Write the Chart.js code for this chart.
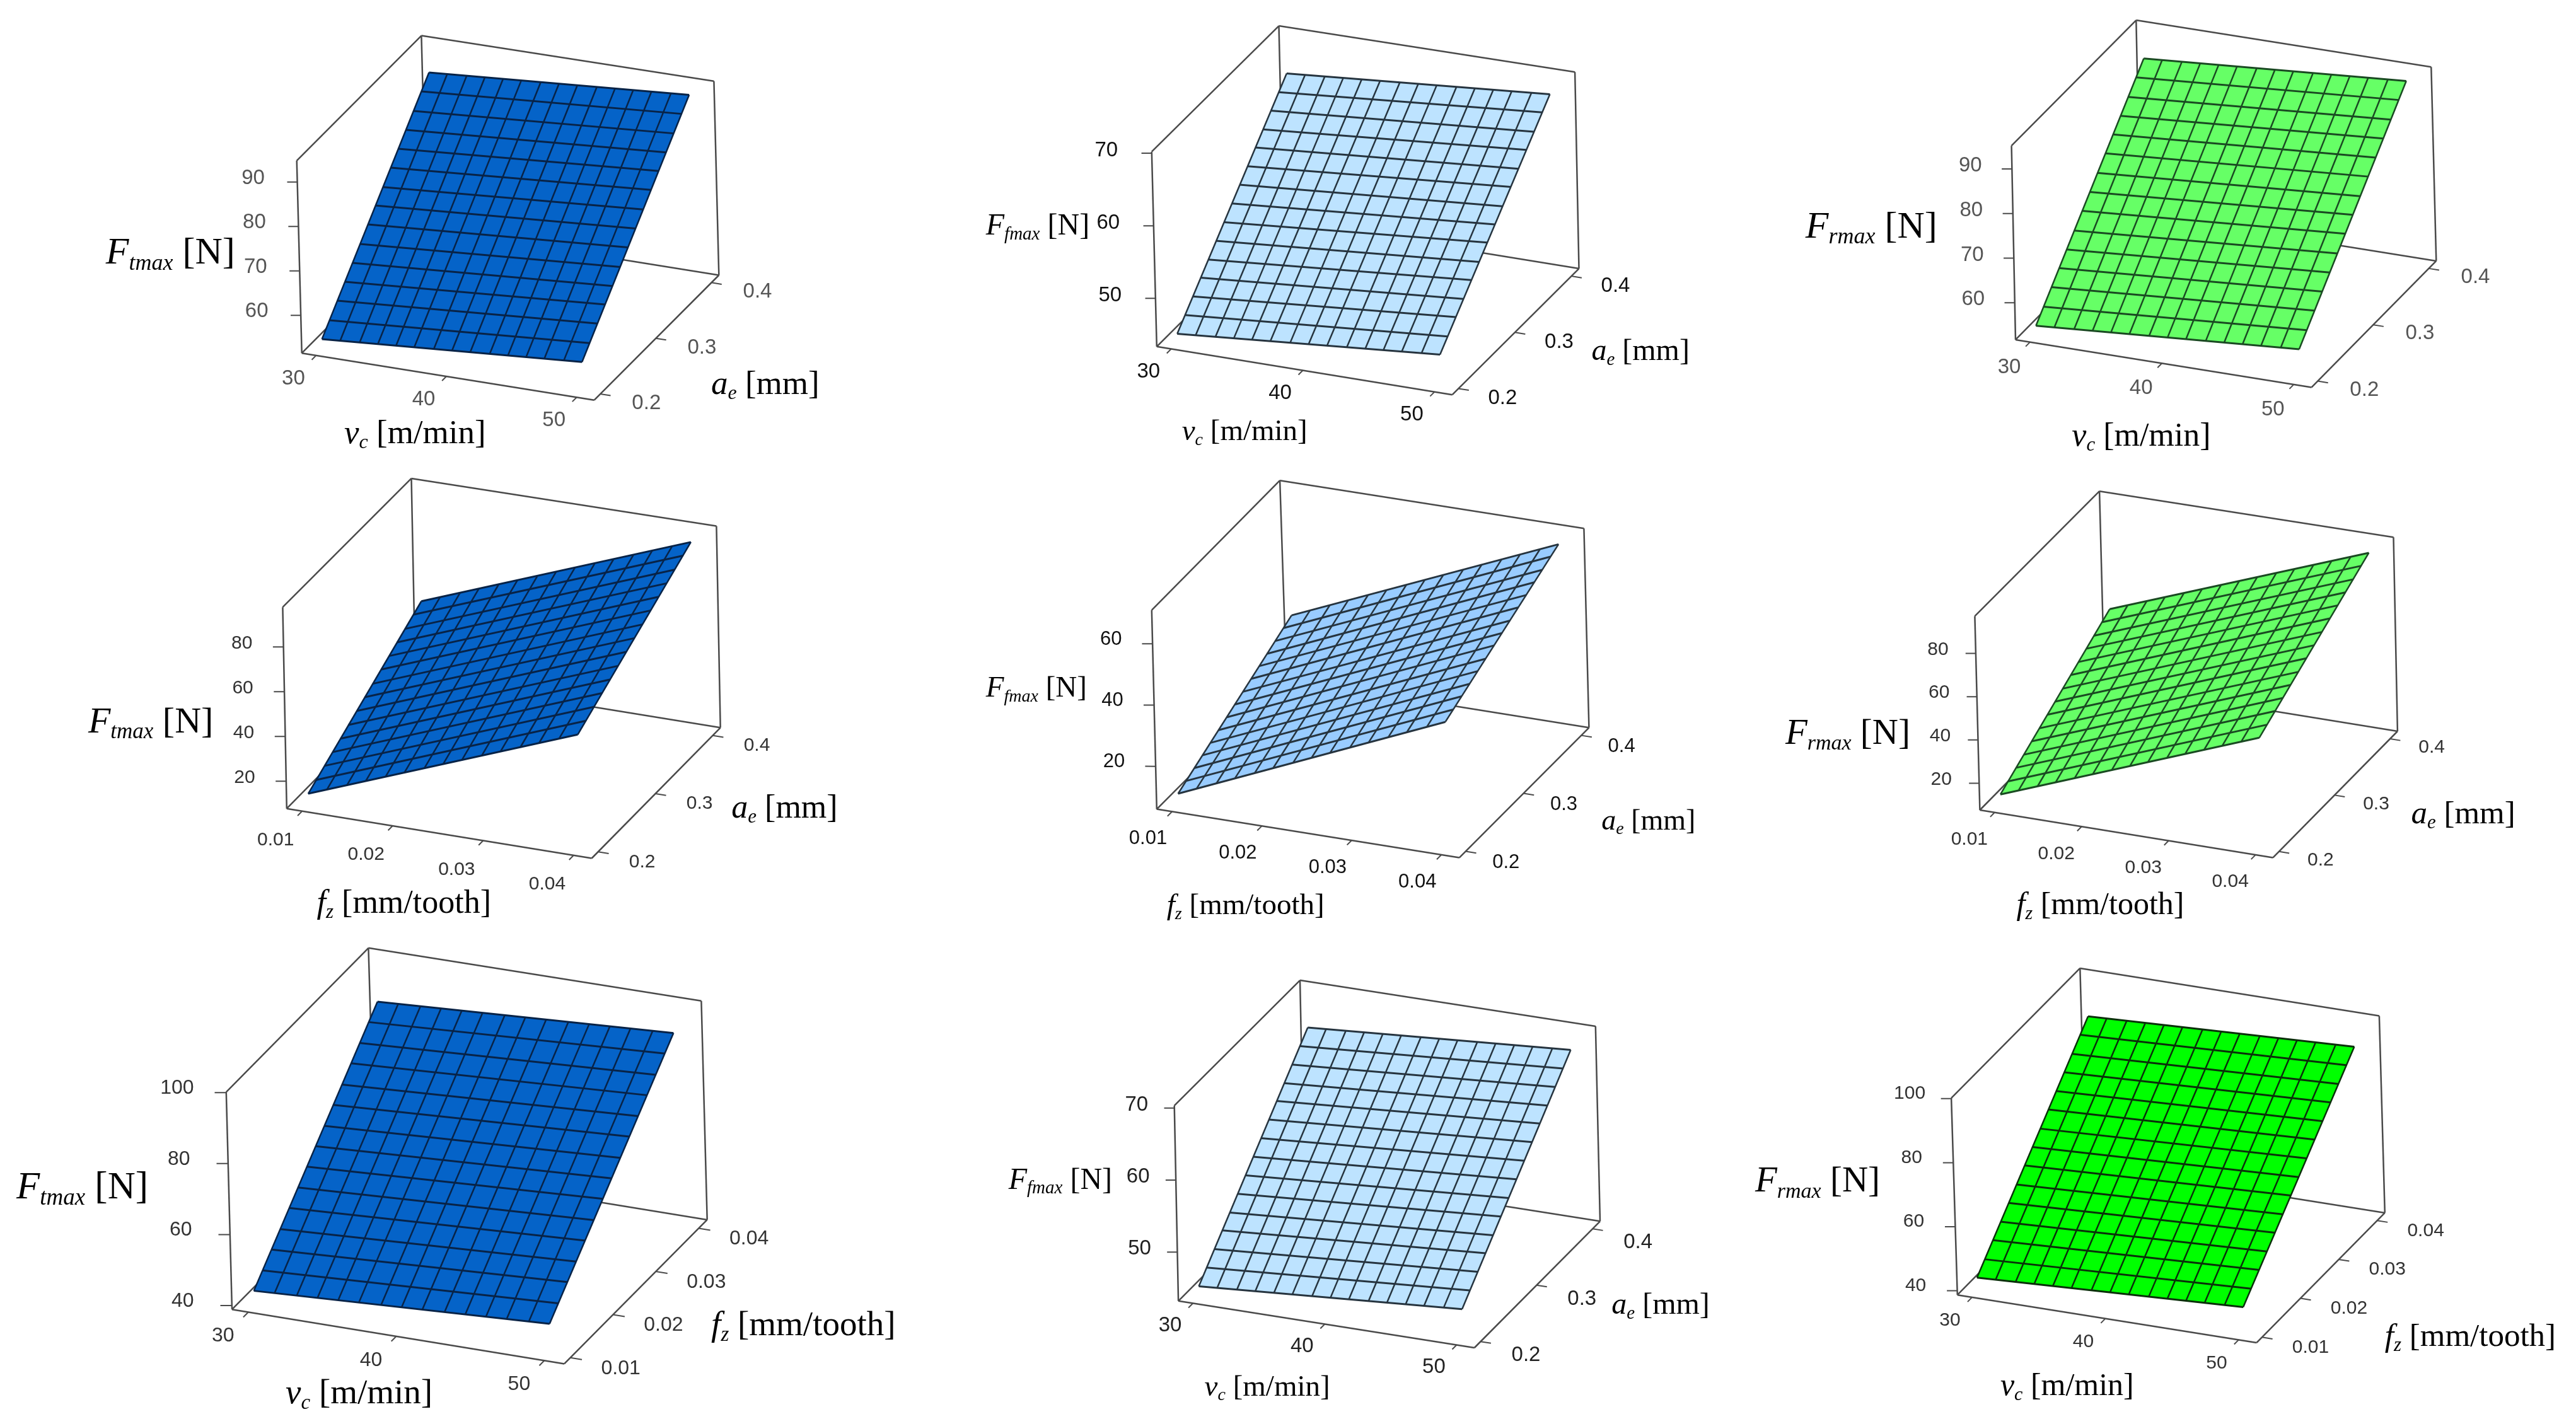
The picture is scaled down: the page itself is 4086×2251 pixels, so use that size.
<!DOCTYPE html>
<html lang="en">
<head>
<meta charset="UTF-8">
<title>Maximum cutting force response surfaces</title>
<script src="https://cdn.jsdelivr.net/npm/chart.js"></script>
<style>
    html, body { margin: 0; background: #fff; }
    canvas { display: block; }
</style>
</head>
<body>
<canvas id="surfaces" width="4086" height="2251"></canvas>
<script>
// tick labels
const vcTicks = [30, 40, 50];
const aeTicks = [0.2, 0.3, 0.4];
const fzTicks = [0.01, 0.02, 0.03, 0.04];
const ticksF60to90 = [60, 70, 80, 90];
const ticksF50to70 = [50, 60, 70];
const ticksF20to80 = [20, 40, 60, 80];
const ticksF20to60 = [20, 40, 60];
const ticksF40to100 = [40, 60, 80, 100];

// mesh positions of the surface along each factor
const vcMesh = [30, 31.4, 32.9, 34.3, 35.7, 37.1, 38.6, 40, 41.4, 42.9, 44.3, 45.7, 47.1, 48.6, 50];
const aeMesh = [0.2, 0.214, 0.229, 0.243, 0.257, 0.271, 0.286, 0.3, 0.314, 0.329, 0.343, 0.357, 0.371, 0.386, 0.4];
const fzMesh = [0.01, 0.0121, 0.0143, 0.0164, 0.0186, 0.0207, 0.0229, 0.025, 0.0271, 0.0293, 0.0314, 0.0336, 0.0357, 0.0379, 0.04];

// force along the four edges of each surface
const ftVcAeFront = [53.8, 54.1, 54.4, 54.7, 55.0, 55.3, 55.6, 55.9, 56.2, 56.5, 56.8, 57.1, 57.4, 57.7, 58.0];
const ftVcAeBack = [88.7, 89.0, 89.3, 89.6, 89.9, 90.2, 90.5, 90.8, 91.0, 91.3, 91.6, 91.9, 92.2, 92.5, 92.8];
const ftVcAeLeft = [53.8, 56.3, 58.8, 61.3, 63.8, 66.3, 68.8, 71.3, 73.7, 76.2, 78.7, 81.2, 83.7, 86.2, 88.7];
const ftVcAeRight = [58.0, 60.5, 63.0, 65.5, 67.9, 70.4, 72.9, 75.4, 77.9, 80.4, 82.9, 85.3, 87.8, 90.3, 92.8];

const ffVcAeFront = [44.6, 44.8, 45.0, 45.2, 45.5, 45.7, 45.9, 46.1, 46.3, 46.5, 46.7, 47.0, 47.2, 47.4, 47.6];
const ffVcAeBack = [65.0, 65.2, 65.4, 65.6, 65.8, 66.0, 66.2, 66.4, 66.6, 66.8, 67.0, 67.2, 67.4, 67.6, 67.8];
const ffVcAeLeft = [44.6, 46.1, 47.5, 49.0, 50.4, 51.9, 53.3, 54.8, 56.3, 57.7, 59.2, 60.6, 62.1, 63.5, 65.0];
const ffVcAeRight = [47.6, 49.0, 50.5, 51.9, 53.4, 54.8, 56.3, 57.7, 59.1, 60.6, 62.0, 63.5, 64.9, 66.4, 67.8];

const frVcAeFront = [54.0, 54.3, 54.6, 54.9, 55.2, 55.5, 55.8, 56.1, 56.4, 56.7, 57.0, 57.3, 57.6, 57.9, 58.2];
const frVcAeBack = [88.8, 89.1, 89.4, 89.7, 90.0, 90.3, 90.6, 91.0, 91.3, 91.6, 91.9, 92.2, 92.5, 92.8, 93.1];
const frVcAeLeft = [54.0, 56.5, 59.0, 61.5, 63.9, 66.4, 68.9, 71.4, 73.9, 76.4, 78.9, 81.3, 83.8, 86.3, 88.8];
const frVcAeRight = [58.2, 60.7, 63.2, 65.7, 68.2, 70.7, 73.2, 75.7, 78.1, 80.6, 83.1, 85.6, 88.1, 90.6, 93.1];

const ftFzAeFront = [12.7, 16.0, 19.2, 22.5, 25.8, 29.0, 32.3, 35.5, 38.8, 42.1, 45.3, 48.6, 51.9, 55.1, 58.4];
const ftFzAeBack = [47.0, 50.3, 53.5, 56.8, 60.1, 63.4, 66.6, 69.9, 73.2, 76.4, 79.7, 83.0, 86.3, 89.5, 92.8];
const ftFzAeLeft = [12.7, 15.2, 17.6, 20.1, 22.5, 25.0, 27.4, 29.9, 32.3, 34.8, 37.2, 39.7, 42.1, 44.6, 47.0];
const ftFzAeRight = [58.4, 60.9, 63.3, 65.8, 68.2, 70.7, 73.1, 75.6, 78.1, 80.5, 83.0, 85.4, 87.9, 90.3, 92.8];

const ffFzAeFront = [9.8, 12.5, 15.1, 17.8, 20.5, 23.2, 25.8, 28.5, 31.2, 33.8, 36.5, 39.2, 41.9, 44.5, 47.2];
const ffFzAeBack = [30.2, 32.9, 35.5, 38.2, 40.8, 43.5, 46.1, 48.8, 51.5, 54.1, 56.8, 59.4, 62.1, 64.7, 67.4];
const ffFzAeLeft = [9.8, 11.3, 12.7, 14.2, 15.6, 17.1, 18.5, 20.0, 21.5, 22.9, 24.4, 25.8, 27.3, 28.7, 30.2];
const ffFzAeRight = [47.2, 48.6, 50.1, 51.5, 53.0, 54.4, 55.9, 57.3, 58.7, 60.2, 61.6, 63.1, 64.5, 66.0, 67.4];

const frFzAeFront = [13.1, 16.3, 19.6, 22.8, 26.1, 29.3, 32.6, 35.8, 39.0, 42.3, 45.5, 48.8, 52.0, 55.3, 58.5];
const frFzAeBack = [46.9, 50.1, 53.4, 56.6, 59.8, 63.1, 66.3, 69.5, 72.8, 76.0, 79.3, 82.5, 85.7, 89.0, 92.2];
const frFzAeLeft = [13.1, 15.5, 17.9, 20.3, 22.8, 25.2, 27.6, 30.0, 32.4, 34.8, 37.2, 39.7, 42.1, 44.5, 46.9];
const frFzAeRight = [58.5, 60.9, 63.3, 65.7, 68.1, 70.5, 72.9, 75.3, 77.8, 80.2, 82.6, 85.0, 87.4, 89.8, 92.2];

const ftVcFzFront = [43.2, 43.5, 43.8, 44.1, 44.4, 44.7, 45.0, 45.4, 45.7, 46.0, 46.3, 46.6, 46.9, 47.2, 47.5];
const ftVcFzBack = [88.2, 88.5, 88.8, 89.2, 89.5, 89.8, 90.1, 90.5, 90.8, 91.1, 91.4, 91.7, 92.1, 92.4, 92.7];
const ftVcFzLeft = [43.2, 46.4, 49.6, 52.8, 56.1, 59.3, 62.5, 65.7, 68.9, 72.1, 75.3, 78.6, 81.8, 85.0, 88.2];
const ftVcFzRight = [47.5, 50.7, 54.0, 57.2, 60.4, 63.6, 66.9, 70.1, 73.3, 76.6, 79.8, 83.0, 86.2, 89.5, 92.7];

const ffVcAe2Front = [44.7, 44.9, 45.1, 45.3, 45.4, 45.6, 45.8, 46.0, 46.2, 46.4, 46.6, 46.7, 46.9, 47.1, 47.3];
const ffVcAe2Back = [65.1, 65.3, 65.5, 65.7, 65.8, 66.0, 66.2, 66.4, 66.6, 66.8, 67.0, 67.1, 67.3, 67.5, 67.7];
const ffVcAe2Left = [44.7, 46.2, 47.6, 49.1, 50.5, 52.0, 53.4, 54.9, 56.4, 57.8, 59.3, 60.7, 62.2, 63.6, 65.1];
const ffVcAe2Right = [47.3, 48.8, 50.2, 51.7, 53.1, 54.6, 56.0, 57.5, 59.0, 60.4, 61.9, 63.3, 64.8, 66.2, 67.7];

const frVcFzFront = [43.1, 43.4, 43.7, 44.0, 44.3, 44.6, 44.9, 45.2, 45.4, 45.7, 46.0, 46.3, 46.6, 46.9, 47.2];
const frVcFzBack = [88.3, 88.6, 88.8, 89.1, 89.4, 89.7, 89.9, 90.2, 90.5, 90.7, 91.0, 91.3, 91.6, 91.8, 92.1];
const frVcFzLeft = [43.1, 46.3, 49.6, 52.8, 56.0, 59.2, 62.5, 65.7, 68.9, 72.2, 75.4, 78.6, 81.8, 85.1, 88.3];
const frVcFzRight = [47.2, 50.4, 53.6, 56.8, 60.0, 63.2, 66.4, 69.6, 72.9, 76.1, 79.3, 82.5, 85.7, 88.9, 92.1];

// factor axes: limits of the box, ticks, mesh, title
const vcAxis = { min: 28.9, max: 51.35, ticks: vcTicks, mesh: vcMesh, letter: "v", sub: "c", unit: "[m/min]" };
const aeAxis = { min: 0.189, max: 0.4134, ticks: aeTicks, mesh: aeMesh, letter: "a", sub: "e", unit: "[mm]" };
const fzAxisX = { min: 0.0083, max: 0.042, ticks: fzTicks, mesh: fzMesh, letter: "f", sub: "z", unit: "[mm/tooth]" };
const fzAxisY = { min: 0.0086, max: 0.042, ticks: fzTicks, mesh: fzMesh, letter: "f", sub: "z", unit: "[mm/tooth]" };

const BLUE = "#0563c8", SKY = "#bde3ff", SKY2 = "#99ccff", LIME = "#66ff66", GREEN = "#00ff00";
const INK_BLUE = "#082347", INK_SKY = "#26343f", INK_LIME = "#1a4a22", INK_GREEN = "#0a300a";

// box corners on the page: a,b,c are the floor, ta,td,tc the top of the walls
const panels = [
    { x: vcAxis, y: aeAxis, sub: "tmax", zMin: 51.5, zMax: 94.8, zTicks: ticksF60to90,
      front: ftVcAeFront, back: ftVcAeBack, left: ftVcAeLeft, right: ftVcAeRight,
      a: [478.7, 560.2], b: [942.6, 634.7], c: [1140.3, 436.5], ta: [470.7, 254.8], td: [668.4, 56.6], tc: [1132.4, 128.8],
      fill: BLUE, ink: INK_BLUE, tickColor: "#555", tickSize: 33,
      gapX: [-36, 37], gapY: [73, 15], gapZ: [-70, -6],
      zTitle: [167.8, 418, 60], xTitle: [546, 703, 53], yTitle: [1128, 625, 53] },
    { x: vcAxis, y: aeAxis, sub: "fmax", zMin: 43.36, zMax: 70.2, zTicks: ticksF50to70,
      front: ffVcAeFront, back: ffVcAeBack, left: ffVcAeLeft, right: ffVcAeRight,
      a: [1834.8, 549.8], b: [2303.6, 626.2], c: [2504.5, 426.1], ta: [1826.8, 240.7], td: [2028.5, 41.1], tc: [2498.1, 114.2],
      fill: SKY, ink: INK_SKY, tickColor: "#111", tickSize: 33,
      gapX: [-36, 36], gapY: [70, 16], gapZ: [-72, -4],
      zTitle: [1563.8, 372, 48], xTitle: [1874.7, 698.4, 47], yTitle: [2524.4, 571, 48] },
    { x: vcAxis, y: aeAxis, sub: "rmax", zMin: 51.73, zMax: 95.2, zTicks: ticksF60to90,
      front: frVcAeFront, back: frVcAeBack, left: frVcAeLeft, right: frVcAeRight,
      a: [3197, 538.9], b: [3666.6, 614.4], c: [3864.3, 413.9], ta: [3190.6, 231.2], td: [3388.3, 32.1], tc: [3856.3, 106.2],
      fill: LIME, ink: INK_LIME, tickColor: "#555", tickSize: 33,
      gapX: [-33, 40], gapY: [74, 14], gapZ: [-66, -5],
      zTitle: [2863.8, 376.6, 60], xTitle: [3286.3, 707, 52] },
    { x: fzAxisX, y: aeAxis, sub: "tmax", zMin: 7.77, zMax: 97.8, zTicks: ticksF20to80,
      front: ftFzAeFront, back: ftFzAeBack, left: ftFzAeLeft, right: ftFzAeRight,
      a: [454.8, 1282.7], b: [938.6, 1361.5], c: [1142.7, 1154.3], ta: [448.4, 963.2], td: [652.5, 758.9], tc: [1136.4, 834.4],
      fill: BLUE, ink: INK_BLUE, tickColor: "#333", tickSize: 30,
      gapX: [-42, 46], gapY: [70, 16], gapZ: [-66, -6],
      zTitle: [139.9, 1162, 58], xTitle: [502.6, 1447.9, 52], yTitle: [1160.3, 1296.8, 52] },
    { x: fzAxisX, y: aeAxis, sub: "fmax", zMin: 6.02, zMax: 70.97, zTicks: ticksF20to60,
      front: ffFzAeFront, back: ffFzAeBack, left: ffFzAeLeft, right: ffFzAeRight,
      a: [1834.8, 1283.6], b: [2314.7, 1360.6], c: [2520.4, 1154.3], ta: [1826.8, 967.9], td: [2030.1, 762.2], tc: [2512.4, 838.2],
      fill: SKY2, ink: INK_SKY, tickColor: "#111", tickSize: 31,
      gapX: [-38, 43], gapY: [64, 18], gapZ: [-66, -7],
      zTitle: [1563.8, 1105, 47], xTitle: [1850.8, 1450.2, 47], yTitle: [2540.3, 1315.7, 46] },
    { x: fzAxisX, y: aeAxis, sub: "rmax", zMin: 7.64, zMax: 97.2, zTicks: ticksF20to80,
      front: frFzAeFront, back: frFzAeBack, left: frFzAeLeft, right: frFzAeRight,
      a: [3140.4, 1285], b: [3605.2, 1360.6], c: [3802.9, 1160], ta: [3132.4, 977.4], td: [3330.1, 779.2], tc: [3796.5, 852.3],
      fill: LIME, ink: INK_LIME, tickColor: "#333", tickSize: 30,
      gapX: [-40, 43], gapY: [66, 14], gapZ: [-60, -6],
      zTitle: [2831.9, 1180, 57], xTitle: [3198.6, 1450, 50], yTitle: [3824.4, 1306.3, 51] },
    { x: vcAxis, y: fzAxisY, sub: "tmax", zMin: 38.9, zMax: 100.17, zTicks: ticksF40to100,
      front: ftVcFzFront, back: ftVcFzBack, left: ftVcFzLeft, right: ftVcFzRight,
      a: [368, 2077.2], b: [895.1, 2163.4], c: [1121.7, 1934.9], ta: [358.8, 1732.3], td: [584.4, 1503.8], tc: [1112.4, 1587.7],
      fill: BLUE, ink: INK_BLUE, tickColor: "#333", tickSize: 32,
      gapX: [-40, 38], gapY: [80, 17], gapZ: [-78, -7],
      zTitle: [25.9, 1901.4, 61], xTitle: [453.1, 2225.7, 55], yTitle: [1128.1, 2117.9, 55] },
    { x: vcAxis, y: aeAxis, sub: "fmax", zMin: 43.2, zMax: 70.34, zTicks: ticksF50to70,
      front: ffVcAe2Front, back: ffVcAe2Back, left: ffVcAe2Left, right: ffVcAe2Right,
      a: [1869.1, 2063.8], b: [2338.7, 2138], c: [2538, 1937.3], ta: [1862.7, 1753.9], td: [2062, 1555.1], tc: [2530.8, 1627.9],
      fill: SKY, ink: INK_SKY, tickColor: "#222", tickSize: 33,
      gapX: [-36, 35], gapY: [72, 22], gapZ: [-60, -5],
      zTitle: [1599.7, 1885.6, 48], xTitle: [1910.6, 2213.7, 47], yTitle: [2556.3, 2084.4, 48] },
    { x: vcAxis, y: fzAxisY, sub: "rmax", zMin: 38.68, zMax: 100.19, zTicks: ticksF40to100,
      front: frVcFzFront, back: frVcFzBack, left: frVcFzLeft, right: frVcFzRight,
      a: [3104.8, 2054.2], b: [3579.5, 2129.9], c: [3782.8, 1923.9], ta: [3095.1, 1741.9], td: [3299.3, 1535.9], tc: [3773.9, 1611.6],
      fill: GREEN, ink: INK_GREEN, tickColor: "#333", tickSize: 30,
      gapX: [-35, 37], gapY: [77, 16], gapZ: [-66, -8],
      zTitle: [2784, 1890.4, 57], xTitle: [3172.9, 2212.8, 50], yTitle: [3782.8, 2134.7, 51] }
];

// data (x, y, z) -> page position, trilinear inside the box of the panel
function project(p, x, y, z) {
    const u = (x - p.x.min) / (p.x.max - p.x.min);
    const v = (y - p.y.min) / (p.y.max - p.y.min);
    const w = (z - p.zMin) / (p.zMax - p.zMin);
    const out = [0, 1].map(k => {
        const d = p.a[k] + p.c[k] - p.b[k];
        const tb = p.ta[k] + p.tc[k] - p.td[k];
        const floor = p.a[k] + u * (p.b[k] - p.a[k]) + v * (d - p.a[k]);
        const top = p.ta[k] + u * (tb - p.ta[k]) + v * (p.td[k] - p.ta[k]);
        return floor + w * (top - floor);
    });
    return { x: out[0], y: out[1] };
}

function lineSet(points, color, width) {
    return { data: points, showLine: true, borderColor: color, borderWidth: width, pointRadius: 0, fill: false };
}

const datasets = [];
const texts = [];

panels.forEach(p => {
    const xm = p.x.mesh, ym = p.y.mesh, last = xm.length - 1;
    const xr = p.x.max - p.x.min, yr = p.y.max - p.y.min;
    const P = (x, y, z) => project(p, x, y, z);
    const edge = "#4a4a4a";

    // walls and floor of the box
    [
        [[p.x.min, p.y.min, p.zMin], [p.x.max, p.y.min, p.zMin]],
        [[p.x.max, p.y.min, p.zMin], [p.x.max, p.y.max, p.zMin]],
        [[p.x.max, p.y.max, p.zMin], [p.x.min, p.y.max, p.zMin]],
        [[p.x.min, p.y.max, p.zMin], [p.x.min, p.y.min, p.zMin]],
        [[p.x.min, p.y.min, p.zMin], [p.x.min, p.y.min, p.zMax]],
        [[p.x.min, p.y.min, p.zMax], [p.x.min, p.y.max, p.zMax]],
        [[p.x.min, p.y.max, p.zMax], [p.x.min, p.y.max, p.zMin]],
        [[p.x.min, p.y.max, p.zMax], [p.x.max, p.y.max, p.zMax]],
        [[p.x.max, p.y.max, p.zMax], [p.x.max, p.y.max, p.zMin]]
    ].forEach(([s, e]) => datasets.push(lineSet([P(...s), P(...e)], edge, 2.5)));

    // tick marks and their labels
    p.x.ticks.forEach(t => {
        const at = P(t, p.y.min, p.zMin);
        datasets.push(lineSet([at, P(t, p.y.min - 0.035 * yr, p.zMin)], edge, 2));
        texts.push({ text: String(t), x: at.x + p.gapX[0], y: at.y + p.gapX[1], size: p.tickSize, color: p.tickColor });
    });
    p.y.ticks.forEach(t => {
        const at = P(p.x.max, t, p.zMin);
        datasets.push(lineSet([at, P(p.x.max + 0.035 * xr, t, p.zMin)], edge, 2));
        texts.push({ text: String(t), x: at.x + p.gapY[0], y: at.y + p.gapY[1], size: p.tickSize, color: p.tickColor });
    });
    p.zTicks.forEach(t => {
        const at = P(p.x.min, p.y.min, t);
        datasets.push(lineSet([at, P(p.x.min - 0.03 * xr, p.y.min - 0.011 * yr, t)], edge, 2));
        texts.push({ text: String(t), x: at.x + p.gapZ[0], y: at.y + p.gapZ[1], size: p.tickSize, color: p.tickColor });
    });

    // filled surface, the path runs round the edges then ends on the far corner
    // because Chart.js clips a shape fill between its first and last point
    const outline = [];
    p.front.forEach((z, i) => outline.push(P(xm[i], ym[0], z)));
    p.right.forEach((z, j) => outline.push(P(xm[last], ym[j], z)));
    for (let i = last; i >= 0; i--) outline.push(P(xm[i], ym[last], p.back[i]));
    for (let j = last; j >= 0; j--) outline.push(P(xm[0], ym[j], p.left[j]));
    outline.push(P(xm[last], ym[last], p.back[last]));
    datasets.push({ data: outline, showLine: true, borderWidth: 0, pointRadius: 0, fill: "shape", backgroundColor: p.fill });

    // mesh
    ym.forEach((y, j) => datasets.push(lineSet([P(xm[0], y, p.left[j]), P(xm[last], y, p.right[j])], p.ink, 3)));
    xm.forEach((x, i) => datasets.push(lineSet([P(x, ym[0], p.front[i]), P(x, ym[last], p.back[i])], p.ink, 2.5)));
});

// first dataset is painted last by Chart.js, so hand them over back to front
datasets.reverse();

function drawTitle(ctx, letter, sub, unit, at) {
    const [x, y, size] = at;
    let pen = x;
    ctx.textAlign = "left";
    ctx.textBaseline = "alphabetic";
    ctx.fillStyle = "#000";
    ctx.font = `italic ${size}px "Liberation Serif"`;
    ctx.fillText(letter, pen, y);
    pen += ctx.measureText(letter).width;
    ctx.font = `italic ${Math.round(size * 0.6)}px "Liberation Serif"`;
    ctx.fillText(sub, pen, y + size * 0.16);
    pen += ctx.measureText(sub).width;
    ctx.font = `${size}px "Liberation Serif"`;
    ctx.fillText(" " + unit, pen, y);
}

const panelText = {
    id: "panelText",
    afterDatasetsDraw(chart) {
        const ctx = chart.ctx;
        ctx.save();
        ctx.textAlign = "center";
        ctx.textBaseline = "middle";
        texts.forEach(t => {
            ctx.font = `${t.size}px "Liberation Sans"`;
            ctx.fillStyle = t.color;
            ctx.fillText(t.text, t.x, t.y);
        });
        panels.forEach(p => {
            drawTitle(ctx, "F", p.sub, "[N]", p.zTitle);
            drawTitle(ctx, p.x.letter, p.x.sub, p.x.unit, p.xTitle);
            if (p.yTitle) drawTitle(ctx, p.y.letter, p.y.sub, p.y.unit, p.yTitle);
        });
        ctx.restore();
    }
};

new Chart(document.getElementById("surfaces"), {
    type: "scatter",
    data: { datasets: datasets },
    options: {
        responsive: false,
        animation: false,
        layout: { padding: 0 },
        plugins: { legend: { display: false }, tooltip: { enabled: false } },
        scales: {
            x: { type: "linear", min: 0, max: 4086, display: false },
            y: { type: "linear", min: 0, max: 2251, reverse: true, display: false }
        }
    },
    plugins: [panelText]
});
</script>
</body>
</html>
